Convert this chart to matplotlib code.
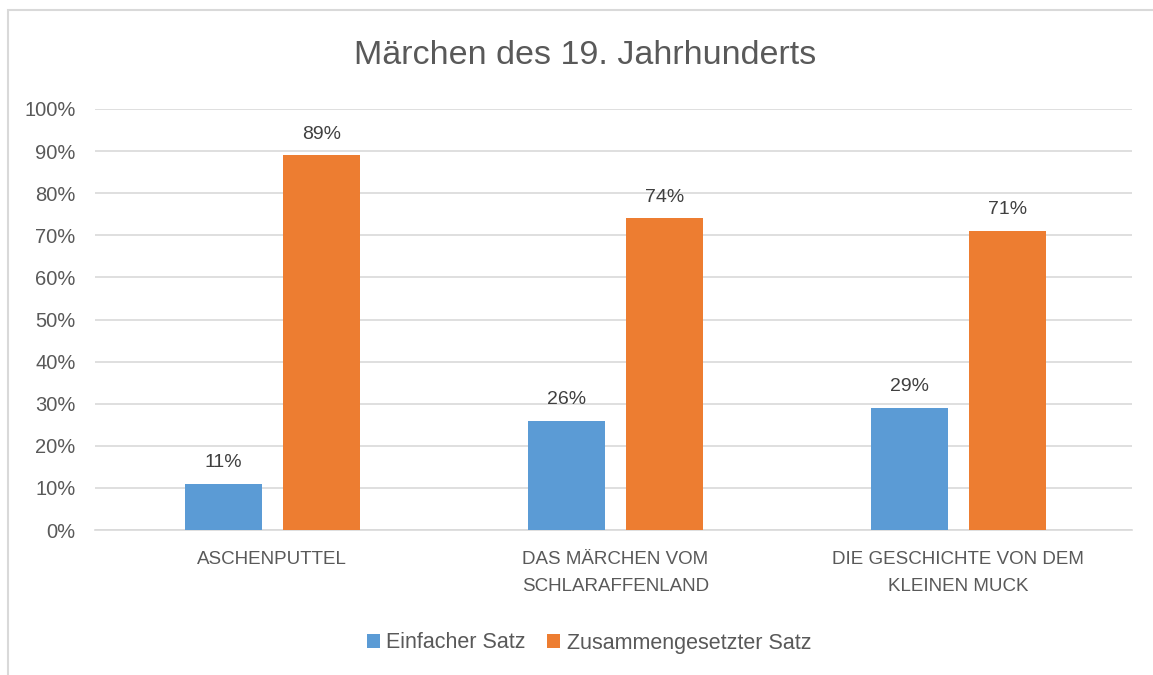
import numpy as np
import matplotlib
matplotlib.use('Agg')
import matplotlib.pyplot as plt
from matplotlib.patches import Rectangle

# data
categories = ["ASCHENPUTTEL", "DAS MÄRCHEN VOM\nSCHLARAFFENLAND", "DIE GESCHICHTE VON DEM\nKLEINEN MUCK"]
einfach = [0.11, 0.26, 0.29]
zusammen = [0.89, 0.74, 0.71]
series_names = ["Einfacher Satz", "Zusammengesetzter Satz"]
yticks = np.arange(0, 1.01, 0.1)

BLUE = "#5B9BD5"
ORANGE = "#ED7D31"
TXT = "#595959"
GRID = "#D9D9D9"

plt.rcParams['font.family'] = ['Liberation Sans', 'DejaVu Sans']

W, H = 1153, 675
fig = plt.figure(figsize=(W / 100, H / 100), dpi=100)

# chart border (left and top edges visible)
fig.add_artist(Rectangle((8 / W, -0.05), 1.2, (H - 10) / H + 0.05, transform=fig.transFigure,
                         fill=False, edgecolor="#D9D9D9", linewidth=1.5))

ax = fig.add_axes([95 / W, 1 - 530 / H, (1132 - 95) / W, (530 - 109) / H])
x = np.arange(len(categories))
w = 0.225
off = 0.143
b1 = ax.bar(x - off, einfach, w, color=BLUE, label=series_names[0], zorder=3)
b2 = ax.bar(x + off, zusammen, w, color=ORANGE, label=series_names[1], zorder=3)

for bars, vals in ((b1, einfach), (b2, zusammen)):
    for b, v in zip(bars, vals):
        ax.text(b.get_x() + b.get_width() / 2, v + 0.03, f"{round(v * 100)}%",
                ha="center", va="bottom", fontsize=14, color="#404040")

ax.set_xlim(-0.517, 2.506)
ax.set_ylim(0, 1)
ax.set_yticks(yticks)
ax.set_yticklabels([f"{round(t * 100)}%" for t in yticks], fontsize=14.5, color=TXT)
ax.set_xticks(x)
ax.set_xticklabels(categories, fontsize=13.5, color=TXT, linespacing=1.8)
ax.tick_params(axis="both", length=0)
ax.tick_params(axis="y", pad=14)
ax.tick_params(axis="x", pad=15)
ax.grid(axis="y", color=GRID, linewidth=1.2, zorder=0)
for s in ("top", "right", "left"):
    ax.spines[s].set_visible(False)
ax.spines["bottom"].set_color(GRID)
ax.spines["bottom"].set_linewidth(1.2)

fig.text(585 / W, 1 - 55 / H, "Märchen des 19. Jahrhunderts", ha="center", va="center",
         fontsize=24.5, color=TXT)

fig.legend(handles=[b1, b2], loc="center", bbox_to_anchor=(589 / W, 1 - 643 / H), ncol=2,
           frameon=False, fontsize=15.5, labelcolor=TXT, handlelength=0.6, handleheight=0.6,
           handletextpad=0.3, columnspacing=1.0)

fig.savefig("out.png", dpi=100)
